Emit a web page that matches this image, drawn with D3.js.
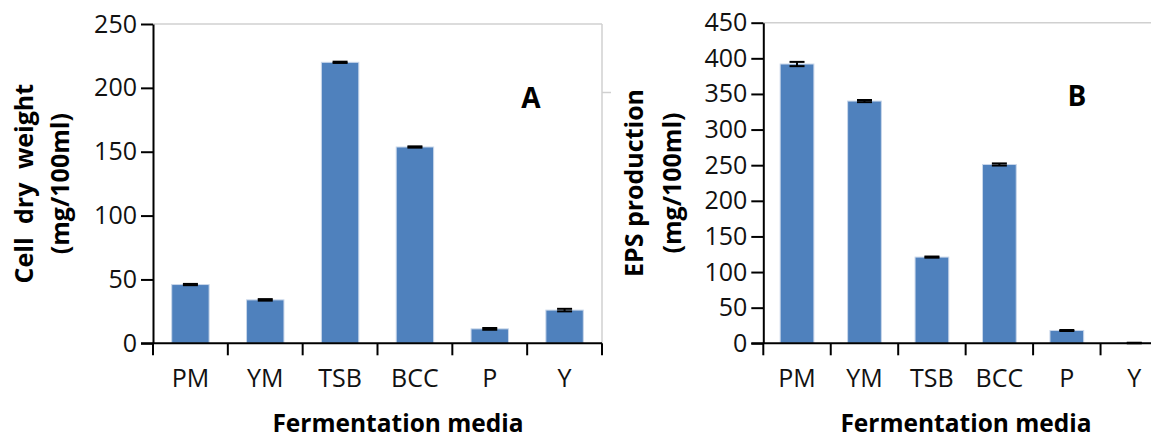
<!DOCTYPE html>
<html>
<head>
<meta charset="utf-8">
<script src="https://cdn.jsdelivr.net/npm/d3@7"></script>
<style>
  body { margin: 0; background: #fff; }
  svg { display: block; font-family: "Open Sans", sans-serif; }
</style>
</head>
<body>
<svg id="chart" width="1151" height="440"></svg>
<script>
const categories = ["PM", "YM", "TSB", "BCC", "P", "Y"];

// panel A: cell dry weight
const cellValues = [46, 34, 220, 153.7, 11.3, 26];
const cellErrors = [0.5, 0.6, 0.5, 0.5, 0.7, 1.0];
const cellTicks = [0, 50, 100, 150, 200, 250];

// panel B: EPS production
const epsValues = [392, 340, 121, 251, 18, 0.4];
const epsErrors = [3, 1.5, 0.8, 1.5, 0.7, 0.4];
const epsTicks = [0, 50, 100, 150, 200, 250, 300, 350, 400, 450];

const svg = d3.select("#chart");

function drawPanel(opts) {
    const { left, right, top, bottom, values, errors, ticks, max, titleLines, titleX, letter, letterX, letterY, xTitleX, frameRight } = opts;

    const x = d3.scaleBand()
        .domain(categories)
        .range([left, right])
        .paddingInner(0.5)
        .paddingOuter(0.25);

    const y = d3.scaleLinear()
        .domain([0, max])
        .range([bottom, top]);

    const g = svg.append("g");

    // light grey frame (top and right)
    g.append("line")
        .attr("x1", left).attr("x2", frameRight ? right : 1151)
        .attr("y1", y(max)).attr("y2", y(max))
        .attr("stroke", "#d0d0d0").attr("stroke-width", 1.5);
    if (frameRight) {
        g.append("line")
            .attr("x1", right).attr("x2", right)
            .attr("y1", y(max)).attr("y2", bottom)
            .attr("stroke", "#d0d0d0").attr("stroke-width", 1.5);
        g.append("line")
            .attr("x1", right).attr("x2", right + 9)
            .attr("y1", 92.5).attr("y2", 92.5)
            .attr("stroke", "#d0d0d0").attr("stroke-width", 1.5);
    }

    // bars
    g.selectAll("rect.bar")
        .data(values)
        .enter()
        .append("rect")
        .attr("class", "bar")
        .attr("x", (d, i) => x(categories[i]))
        .attr("y", d => y(d))
        .attr("width", x.bandwidth())
        .attr("height", d => bottom - y(d))
        .attr("fill", "#4f81bd")
        .attr("stroke", "#c9d7ea")
        .attr("stroke-width", 1);

    // error bars
    const err = g.selectAll("g.err")
        .data(values)
        .enter()
        .append("g")
        .attr("class", "err")
        .attr("stroke", "#000")
        .attr("stroke-width", 2);
    const cx = (d, i) => x(categories[i]) + x.bandwidth() / 2;
    err.append("line")
        .attr("x1", cx).attr("x2", cx)
        .attr("y1", (d, i) => y(d + errors[i]))
        .attr("y2", (d, i) => y(Math.max(0, d - errors[i])));
    err.append("line")
        .attr("x1", (d, i) => cx(d, i) - 7.5).attr("x2", (d, i) => cx(d, i) + 7.5)
        .attr("y1", (d, i) => y(d + errors[i])).attr("y2", (d, i) => y(d + errors[i]));
    err.append("line")
        .attr("x1", (d, i) => cx(d, i) - 7.5).attr("x2", (d, i) => cx(d, i) + 7.5)
        .attr("y1", (d, i) => y(Math.max(0, d - errors[i]))).attr("y2", (d, i) => y(Math.max(0, d - errors[i])));

    // y axis
    const yAxis = g.append("g")
        .attr("transform", `translate(${left},0)`)
        .call(d3.axisLeft(y).tickValues(ticks).tickSize(12).tickPadding(4).tickSizeOuter(0));
    yAxis.select(".domain").attr("stroke-width", 2);
    yAxis.selectAll(".tick line").attr("stroke-width", 2);
    yAxis.selectAll("text")
        .style("font-family", "'Open Sans', sans-serif")
        .style("font-size", "25px")
        .attr("fill", "#111");

    // x axis: line, boundary ticks, labels
    g.append("line")
        .attr("x1", left - 12).attr("x2", Math.min(right, 1151))
        .attr("y1", bottom).attr("y2", bottom)
        .attr("stroke", "#000").attr("stroke-width", 2);
    const bounds = d3.range(categories.length + 1).map(i => x.range()[0] + i * x.step());
    g.selectAll("line.bt")
        .data(bounds)
        .enter()
        .append("line")
        .attr("class", "bt")
        .attr("x1", d => d).attr("x2", d => d)
        .attr("y1", bottom).attr("y2", bottom + 12)
        .attr("stroke", "#000").attr("stroke-width", 2);
    g.selectAll("text.cat")
        .data(categories)
        .enter()
        .append("text")
        .attr("class", "cat")
        .attr("x", d => x(d) + x.bandwidth() / 2)
        .attr("y", 387)
        .attr("text-anchor", "middle")
        .style("font-size", "25px")
        .attr("fill", "#111")
        .text(d => d);

    // x title
    g.append("text")
        .attr("x", xTitleX).attr("y", 432)
        .attr("text-anchor", "middle")
        .style("font-size", "24.5px").style("font-weight", "bold")
        .text("Fermentation media");

    // y title (two lines)
    const cy = (top + bottom) / 2;
    titleLines.forEach((t, i) => {
        g.append("text")
            .attr("transform", `translate(${titleX[i]},${cy}) rotate(-90)`)
            .attr("text-anchor", "middle")
            .style("font-size", "25px").style("font-weight", "bold")
            .style("word-spacing", i === 0 && t.startsWith("Cell") ? "7px" : "0px")
            .text(t);
    });

    // panel letter
    g.append("text")
        .attr("x", letterX).attr("y", letterY)
        .attr("text-anchor", "middle")
        .style("font-size", "28px").style("font-weight", "bold")
        .text(letter);
}

drawPanel({
    left: 153, right: 602, top: 24, bottom: 343.3,
    values: cellValues, errors: cellErrors, ticks: cellTicks, max: 250,
    titleLines: ["Cell dry weight", "(mg/100ml)"], titleX: [33, 69],
    letter: "A", letterX: 531, letterY: 108, xTitleX: 398, frameRight: true
});

drawPanel({
    left: 763.3, right: 1168, top: 22.7, bottom: 343.3,
    values: epsValues, errors: epsErrors, ticks: epsTicks, max: 450,
    titleLines: ["EPS production", "(mg/100ml)"], titleX: [643, 681],
    letter: "B", letterX: 1077, letterY: 106, xTitleX: 966, frameRight: false
});
</script>
</body>
</html>
